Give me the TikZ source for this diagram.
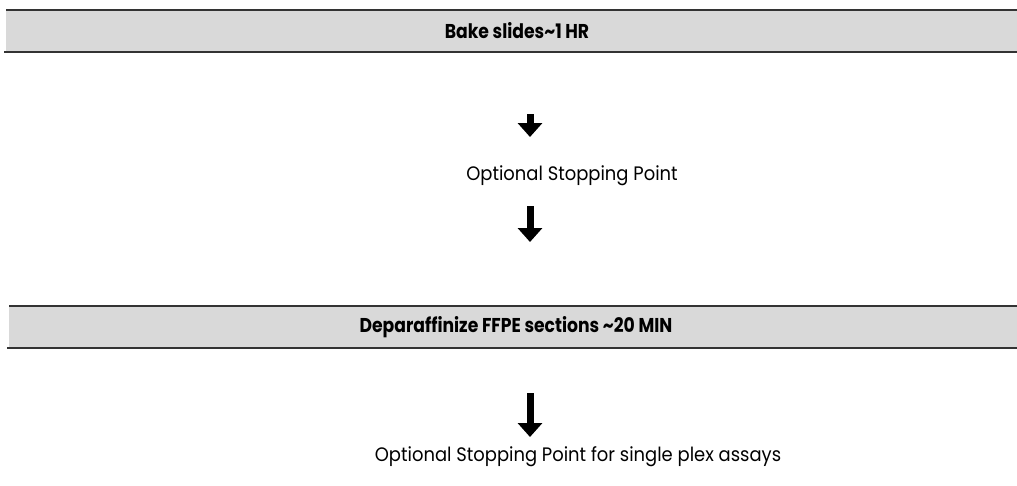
\documentclass[tikz,border=0pt]{standalone}
\usepackage{fontspec}
\setmainfont{Poppins}
\newfontfamily\barfont[FakeStretch=0.86]{Poppins}
\newfontfamily\stepfont[FakeStretch=0.92]{Poppins}
\usetikzlibrary{arrows.meta}
\definecolor{bargray}{HTML}{D9D9D9}
\definecolor{barline}{HTML}{333333}
\tikzset{
  barrule/.style={draw=barline, line width=2pt},
  bartext/.style={font=\barfont\bfseries\fontsize{20}{24}\selectfont},
  steptext/.style={font=\stepfont\fontsize{19.5}{23}\selectfont},
  downarrow/.style={line width=7pt, -{Triangle[width=24pt,length=14pt]}},
}

\begin{document}
\begin{tikzpicture}[x=1pt,y=-1pt]
\useasboundingbox (0,0) rectangle (1017,485);
% first bar
\fill[bargray] (6,10) rectangle (1017,52);
\draw[barrule] (6,10) -- (1017,10);
\draw[barrule] (4,52) -- (1017,52);
\node[bartext] (bake) at (517,31) {Bake slides\textasciitilde1 HR};
% second bar
\fill[bargray] (9,306) rectangle (1017,348);
\draw[barrule] (9,306) -- (1017,306);
\draw[barrule] (7,348) -- (1017,348);
\node[bartext] (depar) at (516,327) {Deparaffinize FFPE sections \textasciitilde20 MIN};
% stopping points
\node[steptext] (stop1) at (572,176) {Optional Stopping Point};
\node[steptext] (stop2) at (578,457) {Optional Stopping Point for single plex assays};
% arrows
\coordinate (a1s) at (530,114);
\coordinate (a1e) at (530,137);
\coordinate (a2s) at (530,206);
\coordinate (a2e) at (530,242);
\coordinate (a3s) at (530,393);
\coordinate (a3e) at (530,437);
\draw[downarrow] (a1s) -- (a1e);
\draw[downarrow] (a2s) -- (a2e);
\draw[downarrow] (a3s) -- (a3e);
\end{tikzpicture}
\end{document}
